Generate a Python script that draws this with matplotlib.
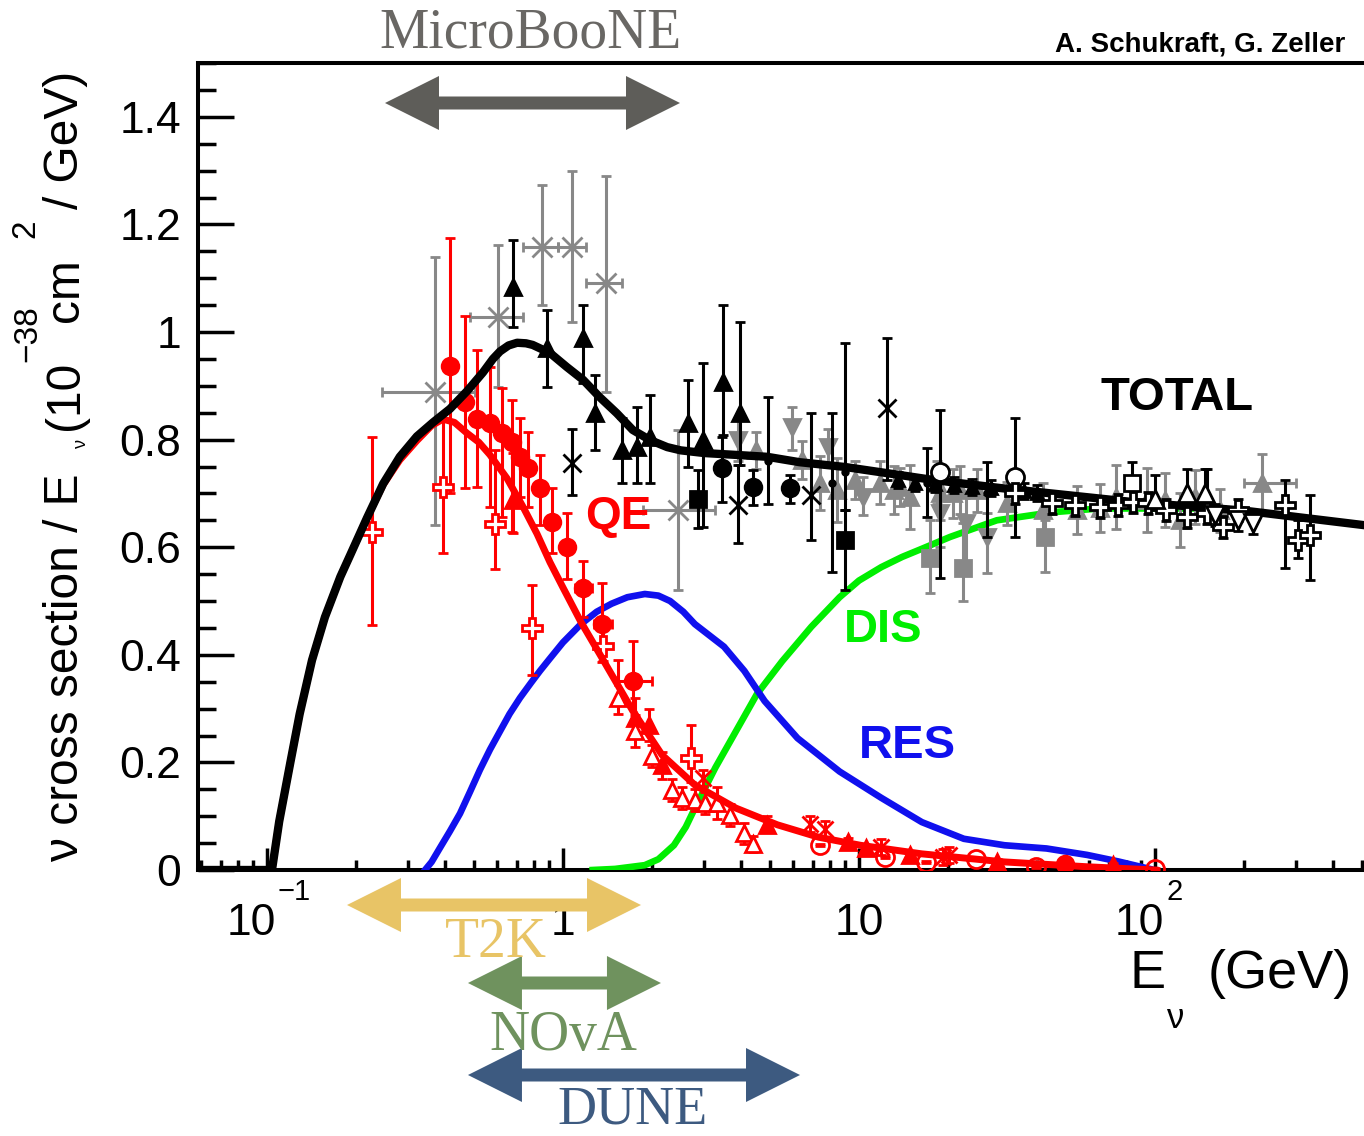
import numpy as np
import matplotlib
matplotlib.use("Agg")
import matplotlib.pyplot as plt
from matplotlib.patches import Polygon
from matplotlib.ticker import FixedLocator, NullFormatter

plt.rcParams['font.family'] = ['Liberation Sans', 'DejaVu Sans']
plt.rcParams['mathtext.fontset'] = 'custom'
plt.rcParams['mathtext.rm'] = 'Liberation Sans'
plt.rcParams['mathtext.it'] = 'Liberation Sans'
plt.rcParams['mathtext.bf'] = 'Liberation Sans:bold'


# ─── Model curves (E in GeV, sigma/E in 1e-38 cm^2/GeV) ──────────────────────

tot_E = [0.058, 0.100, 0.104, 0.110, 0.120, 0.129, 0.142, 0.157, 0.177, 0.191,
         0.218, 0.247, 0.281, 0.321, 0.364, 0.415, 0.474, 0.537, 0.580, 0.613, 0.655,
         0.700, 0.750, 0.790, 0.904, 1.03, 1.17, 1.33, 1.52, 1.72, 1.97, 2.25, 2.5,
         3.0, 4.0, 4.9, 6.3, 9.0, 13.8, 17.8, 30, 84, 200, 508]
tot_y = [0, 0, 0, 0.09, 0.20, 0.29, 0.39, 0.47, 0.545, 0.585,
         0.655, 0.718, 0.768, 0.806, 0.832, 0.857, 0.890, 0.925, 0.950, 0.964, 0.975,
         0.980, 0.979, 0.976, 0.961, 0.935, 0.911, 0.879, 0.849, 0.818, 0.799, 0.786, 0.780,
         0.775, 0.771, 0.768, 0.758, 0.749, 0.734, 0.725, 0.710, 0.684, 0.668, 0.641]

qe_E = [0.058, 0.100, 0.104, 0.110, 0.120, 0.129, 0.142, 0.157, 0.177, 0.191,
        0.218, 0.247, 0.281, 0.321, 0.360, 0.393, 0.430, 0.474, 0.520, 0.566, 0.647,
        0.733, 0.817, 0.904, 1.00, 1.15, 1.375, 1.72, 2.16, 2.79, 3.84, 5.3, 7.3,
        10.1, 16.3, 31, 59, 100]
qe_y = [0, 0, 0, 0.09, 0.20, 0.29, 0.39, 0.47, 0.545, 0.585,
        0.655, 0.716, 0.762, 0.798, 0.826, 0.838, 0.832, 0.812, 0.795, 0.772, 0.728,
        0.675, 0.625, 0.572, 0.525, 0.461, 0.388, 0.296, 0.214, 0.158, 0.115, 0.084, 0.061,
        0.046, 0.030, 0.015, 0.006, 0.0]

res_E = [0.342, 0.360, 0.384, 0.415, 0.449, 0.485, 0.524, 0.567, 0.613, 0.660, 0.716,
         0.780, 0.836, 0.90, 1.00, 1.15, 1.30, 1.46, 1.65, 1.89, 2.10, 2.30, 2.55, 2.79,
         3.5, 4.1, 4.8, 6.2, 8.6, 11.9, 16.3, 22.6, 31, 43, 59, 75, 96]
res_y = [0, 0.015, 0.041, 0.072, 0.105, 0.145, 0.186, 0.224, 0.258, 0.290, 0.320,
         0.348, 0.370, 0.392, 0.423, 0.457, 0.480, 0.495, 0.507, 0.513, 0.510, 0.500, 0.480, 0.457,
         0.415, 0.370, 0.314, 0.245, 0.183, 0.134, 0.089, 0.058, 0.046, 0.040, 0.028, 0.016, 0.002]

dis_E = [1.26, 1.50, 1.89, 2.10, 2.37, 2.60, 2.79, 3.27, 3.84, 4.52, 5.5, 6.9, 8.6,
         10.0, 11.9, 14.0, 16.3, 20.3, 29.2, 45, 65, 150]
dis_y = [0, 0.002, 0.009, 0.020, 0.046, 0.080, 0.115, 0.190, 0.258, 0.327, 0.388, 0.452,
         0.507, 0.538, 0.563, 0.582, 0.597, 0.619, 0.650, 0.665, 0.672, 0.672]


# ─── Measurements: red (QE) ──────────────────────────────────────────────────

rc_E   = [0.415, 0.467, 0.512, 0.566, 0.622, 0.673, 0.716, 0.762, 0.836, 0.918, 1.03, 1.17, 1.36, 1.72, 49.5]
rc_y   = [0.937, 0.870, 0.838, 0.830, 0.812, 0.795, 0.768, 0.747, 0.710, 0.647, 0.600, 0.524, 0.457, 0.351, 0.011]
rc_lo  = [0.700, 0.710, 0.712, 0.675, 0.656, 0.628, 0.693, 0.675, 0.641, 0.589, 0.540, 0.470, 0.387, 0.270, 0.005]
rc_hi  = [1.175, 1.030, 0.967, 0.935, 0.896, 0.874, 0.840, 0.814, 0.771, 0.710, 0.664, 0.575, 0.533, 0.426, 0.017]
rc_xlo = [0.415, 0.467, 0.512, 0.566, 0.622, 0.673, 0.716, 0.762, 0.836, 0.918, 1.03, 1.10, 1.27, 1.50, 49.5]
rc_xhi = [0.415, 0.467, 0.512, 0.566, 0.622, 0.673, 0.716, 0.762, 0.836, 0.918, 1.03, 1.25, 1.47, 2.00, 49.5]

ro_E  = [0.226, 0.393, 0.590, 0.786, 1.37, 2.70]
ro_y  = [0.628, 0.712, 0.643, 0.450, 0.416, 0.208]
ro_lo = [0.455, 0.589, 0.560, 0.362, 0.388, 0.164]
ro_hi = [0.805, 0.840, 0.780, 0.530, 0.446, 0.270]

rt_E  = [0.678, 1.75, 1.95, 2.16, 4.9, 9.2, 10.6, 14.9, 29.3, 72]
rt_y  = [0.688, 0.283, 0.270, 0.195, 0.084, 0.052, 0.040, 0.028, 0.015, 0.009]
rt_lo = [0.626, 0.250, 0.240, 0.170, 0.070, 0.045, 0.033, 0.022, 0.010, 0.005]
rt_hi = [0.775, 0.320, 0.300, 0.220, 0.100, 0.060, 0.047, 0.034, 0.020, 0.013]

rot_E  = [1.53, 1.75, 2.00, 2.33, 2.52, 2.79, 3.02, 3.32, 3.66, 4.10, 4.37]
rot_y  = [0.320, 0.258, 0.212, 0.149, 0.134, 0.130, 0.125, 0.125, 0.102, 0.068, 0.049]
rot_lo = [0.290, 0.228, 0.192, 0.129, 0.114, 0.110, 0.105, 0.095, 0.082, 0.048, 0.034]
rot_hi = [0.390, 0.288, 0.232, 0.169, 0.154, 0.150, 0.145, 0.155, 0.122, 0.088, 0.064]

rx_E = [2.97, 6.85, 7.7, 11.9, 19.2, 20.1]
rx_y = [0.171, 0.086, 0.077, 0.043, 0.024, 0.028]

roc_E = [7.4, 12.2, 16.8, 24.9, 39.7, 100]
roc_y = [0.046, 0.024, 0.015, 0.020, 0.006, 0.002]


# ─── Measurements: black ─────────────────────────────────────────────────────

bt_E  = [0.678, 0.883, 1.17, 1.28, 1.58, 1.78, 1.97, 2.65, 2.97, 3.47, 3.96]
bt_y  = [1.084, 0.970, 0.989, 0.850, 0.780, 0.786, 0.805, 0.830, 0.800, 0.907, 0.849]
bt_lo = [1.009, 0.898, 0.905, 0.780, 0.720, 0.720, 0.720, 0.750, 0.637, 0.808, 0.753]
bt_hi = [1.171, 1.040, 1.050, 0.920, 0.840, 0.860, 0.883, 0.910, 0.942, 1.050, 1.019]

bt2_E = [13.5, 15.5, 18, 21, 24, 28, 36, 40]
bt2_y = [0.725, 0.720, 0.718, 0.715, 0.712, 0.710, 0.705, 0.700]

bc_E  = [3.45, 4.38, 5.84]
bc_y  = [0.747, 0.712, 0.710]
bc_lo = [0.684, 0.678, 0.682]
bc_hi = [0.805, 0.743, 0.734]

bs_E  = [4.93, 8.1, 9.0, 17.0, 27.0]
bs_y  = [0.760, 0.720, 0.740, 0.720, 0.700]
bs_lo = [0.680, 0.554, 0.669, 0.656, 0.619]
bs_hi = [0.880, 0.850, 0.980, 0.784, 0.758]

bsq_E  = [2.86, 8.97]
bsq_y  = [0.690, 0.613]
bsq_lo = [0.636, 0.520]
bsq_hi = [0.743, 0.669]

bx_E  = [1.07, 3.9, 6.9, 12.4]
bx_y  = [0.757, 0.678, 0.697, 0.859]
bx_lo = [0.697, 0.608, 0.613, 0.725]
bx_hi = [0.820, 0.753, 0.849, 0.989]

boc_E  = [18.8, 33.6]
boc_y  = [0.740, 0.730]
boc_lo = [0.543, 0.619]
boc_hi = [0.855, 0.840]

bop_E  = [33.6, 45, 53.5, 65, 75, 84, 95, 109, 128, 150, 170, 190, 275, 305, 335]
bop_y  = [0.700, 0.682, 0.678, 0.675, 0.678, 0.684, 0.682, 0.669, 0.656, 0.664, 0.638, 0.669, 0.678, 0.613, 0.623]
bop_lo = [0.680, 0.662, 0.658, 0.655, 0.658, 0.664, 0.662, 0.649, 0.636, 0.644, 0.618, 0.649, 0.561, 0.580, 0.539]
bop_hi = [0.720, 0.702, 0.698, 0.695, 0.698, 0.704, 0.702, 0.689, 0.676, 0.745, 0.658, 0.689, 0.725, 0.650, 0.697]

bosq_E = [83.5]
bosq_y = [0.719]

bot_E = [100, 128, 147]
bot_y = [0.690, 0.700, 0.700]

bodt_E = [160, 190, 215]
bodt_y = [0.660, 0.650, 0.645]


# ─── Measurements: grey ──────────────────────────────────────────────────────

gt_E   = [4.5, 6.42, 7.4, 8.4, 9.7, 11.8, 13.1, 13.8, 14.9, 18.3, 18.8, 20.8, 22, 25,
          31.5, 41.9, 54.6, 65, 74, 94, 108, 121, 136, 166, 230]
gt_y   = [0.780, 0.762, 0.720, 0.706, 0.725, 0.720, 0.706, 0.712, 0.693, 0.720, 0.700, 0.700,
          0.706, 0.706, 0.682, 0.669, 0.669, 0.673, 0.693, 0.688, 0.688, 0.650, 0.693, 0.669, 0.719]
gt_err = [0.035, 0.035, 0.050, 0.060, 0.035, 0.040, 0.045, 0.035, 0.060, 0.040, 0.050, 0.045,
          0.045, 0.040, 0.040, 0.050, 0.045, 0.045, 0.060, 0.060, 0.050, 0.050, 0.050, 0.040, 0.055]
gt_xlo = [4.5, 6.42, 7.4, 8.4, 9.7, 11.8, 13.1, 13.8, 14.9, 18.3, 18.8, 20.8, 22, 25,
          31.5, 41.9, 54.6, 65, 74, 94, 108, 121, 136, 166, 200]
gt_xhi = [4.5, 6.42, 7.4, 8.4, 9.7, 11.8, 13.1, 13.8, 14.9, 18.3, 18.8, 20.8, 22, 25,
          31.5, 41.9, 54.6, 65, 74, 94, 108, 121, 136, 166, 300]

gdt_E  = [3.9, 5.95, 7.86, 10.3, 18.8, 23, 27]
gdt_y  = [0.800, 0.823, 0.786, 0.693, 0.664, 0.645, 0.619]
gdt_lo = [0.760, 0.780, 0.750, 0.660, 0.600, 0.570, 0.552]
gdt_hi = [0.840, 0.860, 0.820, 0.730, 0.720, 0.700, 0.664]

gsq_E  = [17.4, 22.5, 42.5]
gsq_y  = [0.580, 0.561, 0.619]
gsq_lo = [0.515, 0.500, 0.554]
gsq_hi = [0.650, 0.645, 0.650]

gx_E   = [0.37, 0.604, 0.85, 1.07, 1.40, 2.45]
gx_y   = [0.888, 1.028, 1.158, 1.158, 1.091, 0.669]
gx_lo  = [0.641, 0.898, 1.050, 1.019, 0.889, 0.520]
gx_hi  = [1.140, 1.162, 1.273, 1.300, 1.290, 0.818]
gx_xlo = [0.245, 0.485, 0.733, 0.960, 1.20, 1.87]
gx_xhi = [0.505, 0.733, 0.960, 1.20, 1.58, 3.26]


# ─── Experiment energy ranges ────────────────────────────────────────────────

exp_names  = ["MicroBooNE", "T2K", "NOvA", "DUNE"]
exp_lo     = [0.2505, 0.1864, 0.4776, 0.4776]
exp_hi     = [2.485, 1.835, 2.143, 6.32]
exp_colors = ["#5e5d59", "#e8c466", "#6f925e", "#3d5a80"]
exp_text_c = ["#696764", "#e8c466", "#6f925e", "#3d5a80"]

xtick_vals   = [0.1, 1, 10, 100]
xtick_main   = ["10", "1", "10", "10"]
xtick_sup    = ["\u22121", "", "", "2"]
ytick_vals   = [0, 0.2, 0.4, 0.6, 0.8, 1.0, 1.2, 1.4]
ytick_labels = ["0", "0.2", "0.4", "0.6", "0.8", "1", "1.2", "1.4"]


# ─── Figure ──────────────────────────────────────────────────────────────────

W, H = 1364, 1136
fig = plt.figure(figsize=(W / 100, H / 100), dpi=100)
ax = fig.add_axes([198 / W, (H - 870) / H, (W - 198) / W, 807 / H])
ax.set_xscale("log")
ax.set_xlim(0.0585, 508)
ax.set_ylim(0, 1.5)

for s in ["left", "bottom", "top"]:
    ax.spines[s].set_linewidth(2.9)
ax.spines["right"].set_visible(False)

ax.xaxis.set_major_locator(FixedLocator(xtick_vals))
minors = [m * 10.0 ** d for d in range(-2, 3) for m in range(2, 10)]
ax.xaxis.set_minor_locator(FixedLocator(minors))
ax.xaxis.set_major_formatter(NullFormatter())
ax.xaxis.set_minor_formatter(NullFormatter())
ax.xaxis.set_tick_params(which="major", direction="in", length=16, width=2.5)
ax.xaxis.set_tick_params(which="minor", direction="in", length=7.5, width=2.5)

ax.set_yticks(ytick_vals)
ax.set_yticklabels(ytick_labels, fontsize=32)
ax.yaxis.set_minor_locator(FixedLocator(np.arange(0, 1.501, 0.05)))
ax.yaxis.set_tick_params(which="major", direction="in", length=26, width=2.5, pad=12)
ax.yaxis.set_tick_params(which="minor", direction="in", length=13, width=2.5)

# ROOT-style log labels: "10" left of the tick, exponent raised to its right
for v, main, sup in zip(xtick_vals, xtick_main, xtick_sup):
    xp = ax.transData.transform((v, 1))[0]
    if sup:
        fig.text((xp + 9) / W, 1 - 935 / H, main, ha="right", va="baseline", fontsize=32)
        fig.text((xp + 11) / W, 1 - 900 / H, sup, ha="left", va="baseline", fontsize=21)
    else:
        fig.text(xp / W, 1 - 935 / H, main, ha="center", va="baseline", fontsize=32)


# ─── Curves ──────────────────────────────────────────────────────────────────

ax.plot(dis_E, dis_y, color="#00ee00", lw=4.8, zorder=3, solid_joinstyle="round")
ax.plot(res_E, res_y, color="#1010ee", lw=4.8, zorder=3, solid_joinstyle="round")
ax.plot(qe_E, qe_y, color="#ff0000", lw=5.0, zorder=6, solid_joinstyle="round")
ax.plot(tot_E, tot_y, color="black", lw=6.0, zorder=7, solid_joinstyle="round")


# ─── Data points ─────────────────────────────────────────────────────────────

def pts(E, y, lo, hi, fmt, color, mfc=None, ms=11, z=5, xlo=None, xhi=None, mew=2):
    E, y, lo, hi = map(np.asarray, (E, y, lo, hi))
    xerr = None
    if xlo is not None:
        xerr = [E - np.asarray(xlo), np.asarray(xhi) - E]
    ax.errorbar(E, y, yerr=[y - lo, hi - y], xerr=xerr, fmt=fmt, color=color,
                mfc=mfc if mfc else color, mec=color, ms=ms, mew=mew,
                elinewidth=2.2, capsize=3.5, capthick=2.2, zorder=z)

grey = "#888888"
pts(gx_E, gx_y, gx_lo, gx_hi, "x", grey, ms=14, z=4, xlo=gx_xlo, xhi=gx_xhi)
pts(gt_E, gt_y, np.subtract(gt_y, gt_err), np.add(gt_y, gt_err), "^", grey, ms=11, z=4,
    xlo=gt_xlo, xhi=gt_xhi)
pts(gdt_E, gdt_y, gdt_lo, gdt_hi, "v", grey, ms=12, z=4)
pts(gsq_E, gsq_y, gsq_lo, gsq_hi, "s", grey, ms=12, z=4)

pts(bt_E, bt_y, bt_lo, bt_hi, "^", "black", ms=12, z=8)
pts(bt2_E, bt2_y, np.subtract(bt2_y, 0.015), np.add(bt2_y, 0.015), "^", "black", ms=8, z=8)
pts(bc_E, bc_y, bc_lo, bc_hi, "o", "black", ms=12, z=8)
pts(bs_E, bs_y, bs_lo, bs_hi, "o", "black", ms=4, z=8)
pts(bsq_E, bsq_y, bsq_lo, bsq_hi, "s", "black", ms=12, z=8)
pts(bx_E, bx_y, bx_lo, bx_hi, "x", "black", ms=13, z=8)
pts(boc_E, boc_y, boc_lo, boc_hi, "o", "black", mfc="white", ms=13, z=8)
pts(bop_E, bop_y, bop_lo, bop_hi, "P", "black", mfc="white", ms=14, z=8)
pts(bosq_E, bosq_y, np.subtract(bosq_y, 0.03), np.add(bosq_y, 0.04), "s", "black", mfc="white", ms=12, z=8)
pts(bot_E, bot_y, np.subtract(bot_y, 0.02), np.add(bot_y, 0.045), "^", "black", mfc="white", ms=13, z=8)
pts(bodt_E, bodt_y, np.subtract(bodt_y, 0.02), np.add(bodt_y, 0.02), "v", "black", mfc="white", ms=13, z=8)

red = "#ff0000"
pts(rc_E, rc_y, rc_lo, rc_hi, "o", red, ms=12, z=5, xlo=rc_xlo, xhi=rc_xhi)
pts(ro_E, ro_y, ro_lo, ro_hi, "P", red, mfc="white", ms=14, z=5)
pts(rt_E, rt_y, rt_lo, rt_hi, "^", red, ms=11, z=5)
pts(rot_E, rot_y, rot_lo, rot_hi, "^", red, mfc="white", ms=12, z=5)
pts(rx_E, rx_y, np.subtract(rx_y, 0.015), np.add(rx_y, 0.015), "x", red, ms=12, z=5)
pts(roc_E, roc_y, np.subtract(roc_y, 0.002), np.add(roc_y, 0.002), "o", red, mfc="none", ms=13, z=5)


# ─── Curve labels ────────────────────────────────────────────────────────────

ax.text(119, 0.877, "TOTAL", fontsize=34, weight="bold", color="black", ha="center", va="center")
ax.text(1.534, 0.656, "QE", fontsize=33, weight="bold", color=red, ha="center", va="center", zorder=9)
ax.text(12.07, 0.446, "DIS", fontsize=34, weight="bold", color="#00ee00", ha="center", va="center")
ax.text(14.53, 0.230, "RES", fontsize=34, weight="bold", color="#1010ee", ha="center", va="center")

fig.text(1345 / W, 1 - 52 / H, "A. Schukraft, G. Zeller", fontsize=20, weight="bold",
         ha="right", va="baseline")


# ─── Axis titles (ROOT-style, pieces placed by hand) ─────────────────────────

def ylab(s, x, y, fs):
    fig.text(x / W, 1 - y / H, s, rotation=90, rotation_mode="anchor",
             ha="left", va="baseline", fontsize=fs)

ylab("ν cross section / E", 78, 862, 34.5)
ylab("ν", 86, 448, 13)
ylab("(10", 78, 430, 34.5)
ylab("\u221238", 36, 362, 24)
ylab("cm", 78, 322, 34.5)
ylab("2", 34, 238, 24)
ylab("/ GeV)", 78, 209, 34.5)

fig.text(1130 / W, 1 - 988 / H, "E", fontsize=39, ha="left", va="baseline")
fig.text(1167 / W, 1 - 1028 / H, "ν", fontsize=25, ha="left", va="baseline")
fig.text(1208 / W, 1 - 988 / H, "(GeV)", fontsize=39, ha="left", va="baseline")


# ─── Experiment range arrows ─────────────────────────────────────────────────

def span_arrow(e0, e1, ytop, color):
    x0 = ax.transData.transform((e0, 1))[0]
    x1 = ax.transData.transform((e1, 1))[0]
    y = H - ytop
    hl, hw, sw = 54, 27, 6.5
    v = [(x0, y), (x0 + hl, y + hw), (x0 + hl, y + sw), (x1 - hl, y + sw), (x1 - hl, y + hw),
         (x1, y), (x1 - hl, y - hw), (x1 - hl, y - sw), (x0 + hl, y - sw), (x0 + hl, y - hw)]
    fig.add_artist(Polygon(np.array(v) / 100.0, closed=True, transform=fig.dpi_scale_trans,
                           fc=color, ec="none", zorder=5))

arrow_y = [103, 905, 983, 1075]
label_xy = [(530, 48), (496, 957), (563, 1050), (633, 1123)]
label_fs = [40, 40, 40, 39]

for name, lo, hi, c, tc, ay, (lx, ly), fs in zip(exp_names, exp_lo, exp_hi, exp_colors,
                                                 exp_text_c, arrow_y, label_xy, label_fs):
    span_arrow(lo, hi, ay, c)
    fig.text(lx / W, 1 - ly / H, name, family=["Liberation Serif", "DejaVu Serif"],
             fontsize=fs, color=tc, ha="center", va="baseline", zorder=6)

fig.savefig("out.png", dpi=100)
